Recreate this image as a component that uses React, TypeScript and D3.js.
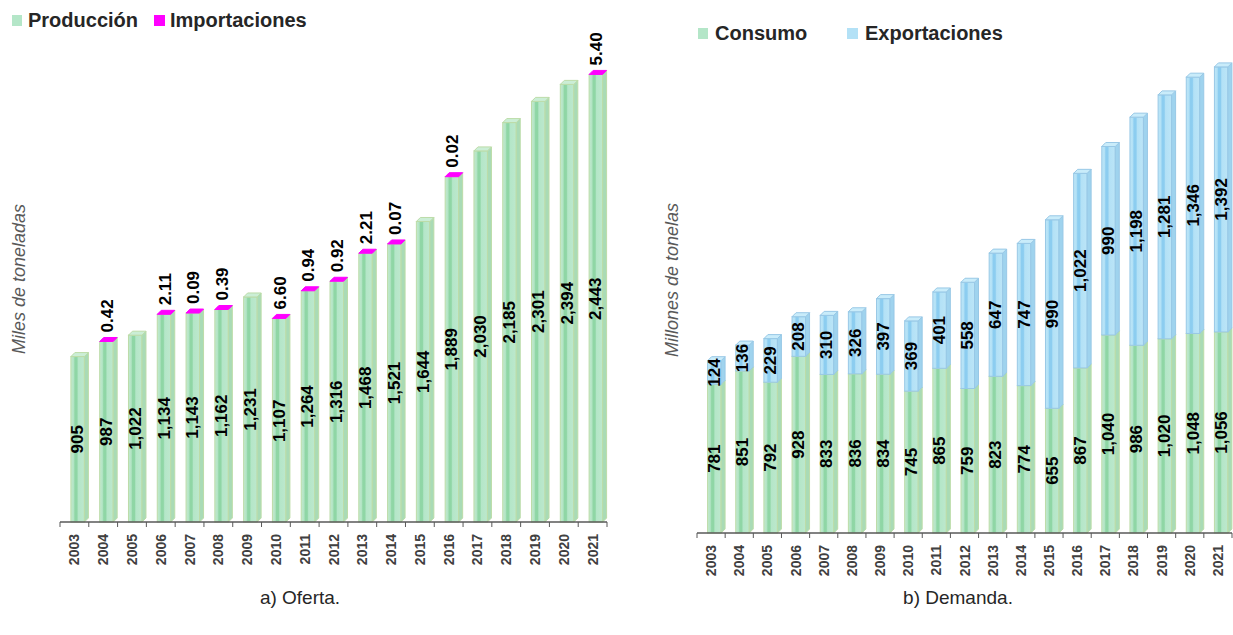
import React from "react";
import * as d3 from "d3";

const years = ["2003","2004","2005","2006","2007","2008","2009","2010","2011","2012","2013","2014","2015","2016","2017","2018","2019","2020","2021"];
const produccion = [905,987,1022,1134,1143,1162,1231,1107,1264,1316,1468,1521,1644,1889,2030,2185,2301,2394,2443];
const importaciones: (number|null)[] = [null,0.42,null,2.11,0.09,0.39,null,6.60,0.94,0.92,2.21,0.07,null,0.02,null,null,null,null,5.40];
const consumo = [781,851,792,928,833,836,834,745,865,759,823,774,655,867,1040,986,1020,1048,1056];
const exportaciones = [124,136,229,208,310,326,397,369,401,558,647,747,990,1022,990,1198,1281,1346,1392];

const FONT = "Liberation Sans, Arial, sans-serif";
const fmtInt = d3.format(",");
const fmtDec = d3.format(".2f");

const DX = 4, DY = 4, FRONT_L = -3.5, FRONT_W = 13.5;

type Theme = { grad: string; stroke: string; side: string; top: string };
const green: Theme = { grad: "url(#gGreen)", stroke: "#bcdca8", side: "#a9dbb6", top: "#cbeed6" };
const blue: Theme = { grad: "url(#gBlue)", stroke: "#98c8e6", side: "#9fd3ee", top: "#c9ecfa" };

function Box({ c, y0, y1, t, topColor }: { c: number; y0: number; y1: number; t: Theme; topColor?: string }) {
  const x0 = c + FRONT_L, x1 = x0 + FRONT_W;
  const side = `M${x1},${y1}L${x1 + DX},${y1 - DY}L${x1 + DX},${y0 - DY}L${x1},${y0}Z`;
  const top = `M${x0},${y1}L${x1},${y1}L${x1 + DX},${y1 - DY}L${x0 + DX},${y1 - DY}Z`;
  return (
    <g>
      <rect x={x0} y={y1} width={FRONT_W} height={y0 - y1} fill={t.grad} stroke={t.stroke} strokeWidth={1} />
      <path d={side} fill={t.side} stroke={t.stroke} strokeWidth={1} />
      <path d={top} fill={topColor || t.top} stroke={topColor || t.stroke} strokeWidth={1} />
    </g>
  );
}

function XAxis({ x, y0, x0, x1 }: { x: d3.ScaleBand<string>; y0: number; x0: number; x1: number }) {
  const step = x.step();
  return (
    <g>
      <line x1={x0} x2={x1} y1={y0} y2={y0} stroke="#595959" strokeWidth={1.5} />
      {d3.range(years.length + 1).map(i => (
        <line key={i} x1={x0 + i * step} x2={x0 + i * step} y1={y0} y2={y0 + 5} stroke="#595959" strokeWidth={1} />
      ))}
      {years.map(yr => {
        const c = (x(yr) as number) + x.bandwidth() / 2;
        return (
          <text key={yr} transform={`translate(${c},${y0 + 12}) rotate(-90)`} textAnchor="end" dominantBaseline="central"
            fontFamily={FONT} fontWeight="bold" fontSize={14} fill="#404040">{yr}</text>
        );
      })}
    </g>
  );
}

function VLabel({ x, y, text, anchor = "middle" }: { x: number; y: number; text: string; anchor?: string }) {
  return (
    <text transform={`translate(${x},${y}) rotate(-90)`} textAnchor={anchor} dominantBaseline="central"
      fontFamily={FONT} fontWeight="bold" fontSize={17} fill="#000">{text}</text>
  );
}

export default function App() {
  // Left chart: Oferta
  const xL = d3.scaleBand<string>().domain(years).range([60, 607]).padding(0);
  const yL = d3.scaleLinear().domain([0, 2500]).range([522, 65]);
  // Right chart: Demanda
  const xR = d3.scaleBand<string>().domain(years).range([697, 1232]).padding(0);
  const yR = d3.scaleLinear().domain([0, 2500]).range([533, 57]);

  return (
    <svg width={1233} height={635} style={{ position: "absolute", left: 0, top: 0, background: "#fff" }}>
      <defs>
        <linearGradient id="gGreen" x1="0" x2="1" y1="0" y2="0">
          <stop offset="0" stopColor="#c4e9cf" />
          <stop offset="0.2" stopColor="#b2e4c4" />
          <stop offset="0.3" stopColor="#8fd6a5" />
          <stop offset="0.45" stopColor="#8fd6a5" />
          <stop offset="0.55" stopColor="#b4e6c8" />
          <stop offset="1" stopColor="#bde8cd" />
        </linearGradient>
        <linearGradient id="gBlue" x1="0" x2="1" y1="0" y2="0">
          <stop offset="0" stopColor="#bde6f7" />
          <stop offset="0.2" stopColor="#b3e1f6" />
          <stop offset="0.3" stopColor="#8ccdf0" />
          <stop offset="0.45" stopColor="#8ccdf0" />
          <stop offset="0.55" stopColor="#b3e1f6" />
          <stop offset="1" stopColor="#bce5f7" />
        </linearGradient>
      </defs>

      {/* Left legend */}
      <rect x={12} y={15} width={10} height={11} fill="#b4e6c8" />
      <text x={28} y={27} fontFamily={FONT} fontWeight="bold" fontSize={20} fill="#262626">Producción</text>
      <rect x={154} y={15} width={11} height={11} fill="#ff00ff" />
      <text x={170} y={27} fontFamily={FONT} fontWeight="bold" fontSize={20} fill="#262626">Importaciones</text>

      {/* Right legend */}
      <rect x={698} y={28} width={10} height={11} fill="#b4e6c8" />
      <text x={715} y={40} fontFamily={FONT} fontWeight="bold" fontSize={20} fill="#262626">Consumo</text>
      <rect x={847} y={28} width={11} height={11} fill="#b3e1f6" />
      <text x={865} y={40} fontFamily={FONT} fontWeight="bold" fontSize={20} fill="#262626">Exportaciones</text>

      {/* Y titles */}
      <text transform="translate(19,279) rotate(-90)" textAnchor="middle" dominantBaseline="central"
        fontFamily={FONT} fontStyle="italic" fontSize={18} fill="#595959">Miles de toneladas</text>
      <text transform="translate(672,280) rotate(-90)" textAnchor="middle" dominantBaseline="central"
        fontFamily={FONT} fontStyle="italic" fontSize={18} fill="#595959">Millones de tonelas</text>

      {/* Left bars */}
      {years.map((yr, i) => {
        const c = (xL(yr) as number) + xL.bandwidth() / 2;
        const total = produccion[i] + (importaciones[i] || 0);
        const yTop = yL(total);
        const imp = importaciones[i];
        const fc = c + FRONT_L + FRONT_W / 2;
        return (
          <g key={yr}>
            <Box c={c} y0={yL(0)} y1={yTop} t={green} topColor={imp != null ? "#ff00ff" : undefined} />
            <VLabel x={fc} y={(yL(0) + yL(produccion[i])) / 2} text={fmtInt(produccion[i])} />
            {imp != null && <VLabel x={fc + 1} y={yTop - 9} text={fmtDec(imp)} anchor="start" />}
          </g>
        );
      })}
      <XAxis x={xL} y0={522} x0={60} x1={607} />

      {/* Right bars */}
      {years.map((yr, i) => {
        const c = (xR(yr) as number) + xR.bandwidth() / 2;
        const yc = yR(consumo[i]);
        const ye = yR(consumo[i] + exportaciones[i]);
        const fc = c + FRONT_L + FRONT_W / 2;
        return (
          <g key={yr}>
            <Box c={c} y0={yR(0)} y1={yc} t={green} />
            <Box c={c} y0={yc} y1={ye} t={blue} />
            <VLabel x={fc} y={(yR(0) + yc) / 2} text={fmtInt(consumo[i])} />
            <VLabel x={fc} y={(yc + ye) / 2} text={fmtInt(exportaciones[i])} />
          </g>
        );
      })}
      <XAxis x={xR} y0={533} x0={697} x1={1232} />

      {/* Captions */}
      <text x={300} y={604} textAnchor="middle" fontFamily={FONT} fontSize={19} fill="#262626">a) Oferta.</text>
      <text x={958} y={604} textAnchor="middle" fontFamily={FONT} fontSize={19} fill="#262626">b) Demanda.</text>
    </svg>
  );
}
